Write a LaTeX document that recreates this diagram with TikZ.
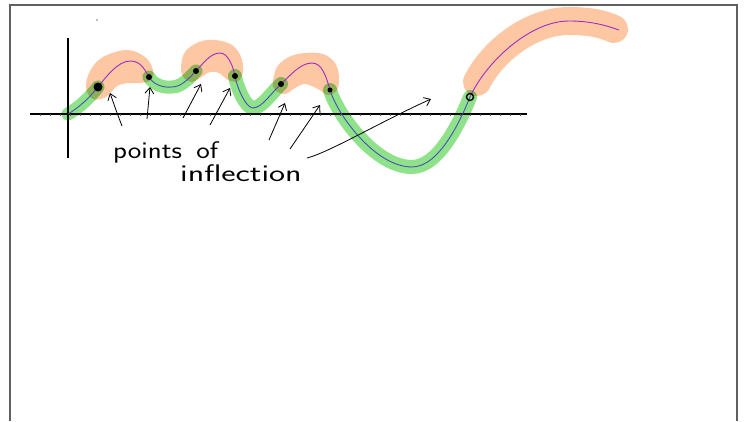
\documentclass[tikz,border=0pt]{standalone}
\usetikzlibrary{arrows.meta}
\definecolor{peach}{HTML}{FDC7A3}
\definecolor{leaf}{HTML}{8FE18A}
\definecolor{penpurple}{HTML}{9A2EC4}
\definecolor{penblue}{HTML}{4452B8}
\definecolor{framegray}{HTML}{606060}
\tikzset{
  hlgreen/.style={leaf, line width=13pt, line cap=round, line join=round},
  hlorange/.style={fill=peach, draw=none},
  penup/.style={penblue, line width=0.9pt},
  pendown/.style={penpurple, line width=0.9pt},
  infl/.style={circle, fill=black, inner sep=0pt, minimum size=#1},
  infl/.default=6pt,
  note/.style={-{Straight Barb[length=6pt,width=9pt]}, line width=0.8pt, black},
  scrawl/.style={font=\sffamily\fontsize{24}{24}\selectfont, inner sep=0pt}
}
\begin{document}
\begin{tikzpicture}[x=1pt,y=-1pt]
\useasboundingbox (0,0) rectangle (745,421);
\fill[white] (0,0) rectangle (745,421);
% page frame
\draw[framegray, line width=1.3pt] (10,421) -- (10,5) -- (737,5) -- (737,421);
\fill[gray!50] (96,19) rectangle (98,21);

% inflection points and extrema of the sketched curve
\coordinate (O) at (68,114);
\coordinate (A) at (98,87);
\coordinate (P1) at (130,61);
\coordinate (B) at (149,77);
\coordinate (T1) at (172,87);
\coordinate (C) at (196,71);
\coordinate (P2) at (220,53);
\coordinate (D) at (235,76);
\coordinate (T2) at (253,108);
\coordinate (E) at (281,84);
\coordinate (P3) at (312,63);
\coordinate (F) at (330,90);
\coordinate (T3) at (412,167);
\coordinate (G) at (470,97);
\coordinate (P4) at (569,21);
\coordinate (Z) at (619,30);

% highlighter strokes
\begin{scope}[blend mode=multiply]
  % concave up (green)
  \draw[hlgreen] (O) .. controls (80,107) and (90,97) .. (A);
  \draw[hlgreen] (B) .. controls (153,84) and (162,88) .. (T1)
                     .. controls (182,87) and (190,77) .. (C);
  \draw[hlgreen, line width=14pt] (D) .. controls (237,88) and (246,108) .. (T2)
                     .. controls (262,108) and (272,92) .. (E);
  \draw[hlgreen, line width=14pt] (F) .. controls (337,114) and (375,167) .. (T3)
                     .. controls (440,167) and (462,117) .. (G);
  % concave down (peach)
  \fill[hlorange] plot[smooth cycle, tension=0.6] coordinates {
    (86,88) (90,71) (103,57) (127,50) (145,57) (153,70) (151,80)
    (140,83) (129,83) (117,86) (106,97) (93,99)};
  \fill[hlorange] plot[smooth cycle, tension=0.6] coordinates {
    (181,68) (185,52) (199,42) (215,40) (232,45) (241,57) (243,71)
    (238,81) (228,80) (219,73) (210,72) (200,78) (192,82) (184,78)};
  \fill[hlorange] plot[smooth cycle, tension=0.6] coordinates {
    (273,82) (277,67) (289,57) (305,53) (323,54) (335,63) (339,77)
    (337,90) (328,95) (318,89) (305,84) (295,88) (285,94) (275,90)};
  \draw[peach, line width=28pt, line cap=round]
    (477,82) .. controls (492,52) and (530,21) .. (569,21)
             .. controls (590,21) and (603,24) .. (614,29);
\end{scope}

% axes with small ticks
\draw[black, line width=1.1pt] (30,114) -- (527,114);
\draw[black, line width=1.1pt] (68,38) -- (68,158);
\foreach \t in {40,50,...,520} \draw[gray!70!black, line width=0.5pt] (\t,114) -- (\t,116);

% the curve itself
\draw[penup] (O) .. controls (80,107) and (90,97) .. (A);
\draw[pendown] (A) .. controls (106,77) and (118,61) .. (P1)
               .. controls (140,61) and (144,68) .. (B);
\draw[penup] (B) .. controls (153,84) and (162,88) .. (T1)
             .. controls (182,87) and (190,77) .. (C);
\draw[pendown] (C) .. controls (202,65) and (210,53) .. (P2)
               .. controls (228,53) and (233,66) .. (D);
\draw[penup] (D) .. controls (237,88) and (246,108) .. (T2)
             .. controls (262,108) and (272,92) .. (E);
\draw[pendown] (E) .. controls (290,76) and (300,63) .. (P3)
               .. controls (322,63) and (326,76) .. (F);
\draw[penup] (F) .. controls (337,114) and (375,167) .. (T3)
             .. controls (440,167) and (462,117) .. (G);
\draw[pendown] (G) .. controls (486,62) and (530,21) .. (P4)
               .. controls (590,21) and (605,25) .. (Z);

% marked points of inflection
\node[infl=9pt] (dA) at (A) {};
\node[infl] (dB) at (B) {};
\node[infl] (dC) at (C) {};
\node[infl] (dD) at (D) {};
\node[infl] (dE) at (E) {};
\node[infl=5pt] (dF) at (F) {};
\node[infl=7pt, fill=none, draw=black, line width=1.4pt] (dG) at (G) {};

% label
\node[scrawl, anchor=base west] (lab1) at (113,158) {\scalebox{1.2}[1]{points\hspace{0.5em}of}};
\node[scrawl, anchor=base west] (lab2) at (180,181) {\scalebox{1.42}[1]{inflection}};

% pointers from the label to the points
\coordinate (a1s) at (122,126); \coordinate (a1e) at (110,93);
\coordinate (a2s) at (147,119); \coordinate (a2e) at (150,87);
\coordinate (a3s) at (183,118); \coordinate (a3e) at (201,84);
\coordinate (a4s) at (210,125); \coordinate (a4e) at (230,88);
\coordinate (a5s) at (269,140); \coordinate (a5e) at (285,103);
\coordinate (a6s) at (290,149); \coordinate (a6e) at (320,105);
\coordinate (a7s) at (307,158); \coordinate (a7e) at (431,99);
\draw[note] (a1s) .. controls (117,113) .. (a1e);
\draw[note] (a2s) -- (a2e);
\draw[note] (a3s) -- (a3e);
\draw[note] (a4s) -- (a4e);
\draw[note] (a5s) -- (a5e);
\draw[note] (a6s) -- (a6e);
\draw[note] (a7s) .. controls (330,152) and (380,122) .. (a7e);
\end{tikzpicture}
\end{document}
